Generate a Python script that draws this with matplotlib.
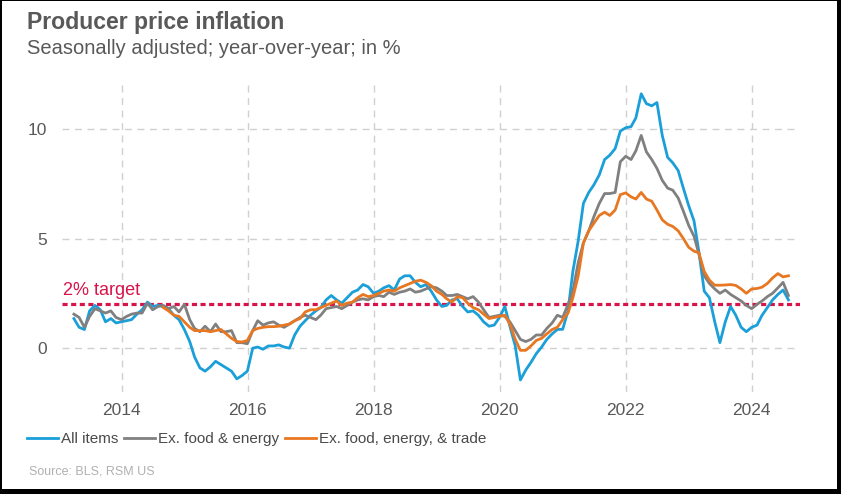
import numpy as np
import pandas as pd
import matplotlib.pyplot as plt
import matplotlib.dates as mdates
from matplotlib.patches import Rectangle

plt.rcParams['font.family'] = ['Liberation Sans', 'DejaVu Sans']

# Monthly year-over-year readings, Mar 2013 .. Jul 2024
dates = pd.date_range('2013-03-31', periods=137, freq='ME')

all_items = [
    1.35, 0.95, 0.85, 1.7, 1.95, 1.75, 1.2, 1.35, 1.15,
    1.2, 1.25, 1.3, 1.55, 1.75, 2.1, 1.9, 1.95, 1.9, 1.8, 1.5, 1.3,
    0.85, 0.3, -0.4, -0.9, -1.05, -0.85, -0.6, -0.75, -0.9, -1.05, -1.4, -1.25,
    -1.05, 0.0, 0.05, -0.05, 0.1, 0.1, 0.15, 0.05, 0.0, 0.6, 1.0, 1.25,
    1.5, 1.7, 1.85, 2.2, 2.4, 2.2, 2.05, 2.3, 2.55, 2.65, 2.9, 2.8,
    2.5, 2.6, 2.75, 2.85, 2.65, 3.15, 3.3, 3.3, 3.0, 2.8, 2.9, 2.6,
    2.2, 1.9, 1.95, 2.2, 2.25, 1.9, 1.65, 1.7, 1.5, 1.2, 1.0, 1.05,
    1.4, 1.9, 1.0, 0.1, -1.45, -1.0, -0.65, -0.25, 0.05, 0.4, 0.65, 0.85,
    0.86, 1.7, 3.5, 4.9, 6.6, 7.1, 7.45, 7.9, 8.6, 8.8, 9.1, 9.9,
    10.05, 10.1, 10.5, 11.6, 11.15, 11.05, 11.2, 9.7, 8.7, 8.45, 8.1, 7.3,
    6.5, 5.8, 4.4, 2.6, 2.3, 1.2, 0.25, 1.2, 1.9, 1.5, 0.95, 0.75,
    0.95, 1.05, 1.5, 1.85, 2.2, 2.45, 2.65, 2.2,
]

ex_food_energy = [
    1.55, 1.4, 0.95, 1.45, 1.8, 1.7, 1.6, 1.7, 1.4,
    1.3, 1.45, 1.55, 1.6, 1.6, 2.05, 1.75, 1.9, 1.95, 1.8, 1.9, 1.65,
    2.0, 1.3, 0.9, 0.75, 1.0, 0.75, 1.1, 0.75, 0.75, 0.8, 0.25, 0.25,
    0.2, 0.8, 1.25, 1.05, 1.15, 1.2, 1.05, 0.95, 1.1, 1.25, 1.4, 1.5,
    1.4, 1.3, 1.5, 1.8, 1.85, 1.9, 1.8, 1.95, 2.1, 2.2, 2.25, 2.2,
    2.35, 2.4, 2.35, 2.55, 2.45, 2.55, 2.6, 2.7, 2.55, 2.6, 2.7, 2.8,
    2.75, 2.6, 2.4, 2.4, 2.45, 2.35, 2.25, 2.35, 2.1, 1.75, 1.4, 1.45,
    1.5, 1.45, 1.2, 0.8, 0.4, 0.3, 0.4, 0.6, 0.6, 0.9, 1.15, 1.5,
    1.4, 2.0, 2.6, 3.9, 4.8, 5.35, 6.0, 6.6, 7.05, 7.05, 7.1, 8.5,
    8.75, 8.6, 9.0, 9.7, 8.95, 8.6, 8.2, 7.65, 7.3, 7.2, 6.85, 6.25,
    5.6, 5.1, 4.3, 3.3, 2.95, 2.7, 2.5, 2.65, 2.45, 2.3, 2.15, 1.95,
    1.8, 2.0, 2.15, 2.35, 2.5, 2.75, 3.0, 2.4,
]

# ex. food, energy & trade starts Aug 2014
ex_fet = [np.nan] * 17 + [
    1.85, 1.7, 1.5, 1.45,
    1.2, 0.95, 0.8, 0.8, 0.8, 0.75, 0.8, 0.85, 0.65, 0.45, 0.3, 0.28,
    0.35, 0.8, 0.9, 0.95, 0.98, 0.98, 1.0, 1.05, 1.1, 1.25, 1.35, 1.65,
    1.75, 1.75, 1.85, 1.95, 2.05, 2.15, 1.95, 2.05, 2.1, 2.3, 2.45, 2.35,
    2.4, 2.5, 2.6, 2.65, 2.6, 2.75, 2.85, 2.95, 3.05, 3.1, 3.0, 2.85,
    2.6, 2.45, 2.25, 2.1, 2.35, 2.3, 2.05, 1.85, 1.75, 1.55, 1.35, 1.4,
    1.45, 1.5, 1.1, 0.4, -0.1, -0.1, 0.1, 0.35, 0.45, 0.65, 0.85, 0.95,
    1.3, 1.6, 2.3, 3.3, 4.8, 5.35, 5.7, 6.05, 6.2, 6.05, 6.3, 7.0,
    7.08, 6.9, 6.8, 7.1, 6.8, 6.7, 6.3, 5.85, 5.65, 5.55, 5.35, 5.0,
    4.6, 4.42, 4.35, 3.5, 3.1, 2.87, 2.87, 2.88, 2.9, 2.86, 2.7, 2.5,
    2.7, 2.72, 2.78, 2.95, 3.2, 3.4, 3.25, 3.3,
]

target = 2
labels = ['All items', 'Ex. food & energy', 'Ex. food, energy, & trade']
colors = ['#1a9fd9', '#808080', '#e87722']

text_color = '#595959'

fig = plt.figure(figsize=(8.41, 4.94), dpi=100)
ax = fig.add_axes([62 / 841, 1 - 392 / 494, 738 / 841, 307 / 494])

for series, lab, col in zip([all_items, ex_food_energy, ex_fet], labels, colors):
    ax.plot(dates, series, color=col, lw=2.0, label=lab, solid_joinstyle='round')

ax.axhline(target, color='#d8134a', lw=2.3, linestyle=(0, (1.6, 1.1)), zorder=1)
ax.text(pd.Timestamp('2013-01-28'), 2.25, '2% target', color='#d8134a',
        fontsize=13, ha='left', va='bottom')

ax.set_ylim(-2, 12)
ax.set_yticks([0, 5, 10])
ax.set_xlim(pd.Timestamp('2013-01-21'), pd.Timestamp('2024-10-06'))
ax.xaxis.set_major_locator(mdates.YearLocator(2))
ax.xaxis.set_major_formatter(mdates.DateFormatter('%Y'))

ax.grid(True, color='#d0d0d0', lw=1.0, linestyle=(0, (5, 4)))
ax.set_axisbelow(True)
for s in ax.spines.values():
    s.set_visible(False)
ax.tick_params(length=0, labelsize=12.5, labelcolor=text_color)
ax.tick_params(axis='x', pad=8)
ax.tick_params(axis='y', pad=11)

fig.text(27 / 841, 1 - 22 / 494, 'Producer price inflation', fontsize=16.6,
         fontweight='bold', color=text_color, va='center', ha='left')
fig.text(27 / 841, 1 - 49 / 494, 'Seasonally adjusted; year-over-year; in %',
         fontsize=14.5, color=text_color, va='center', ha='left')

fig.legend(loc='center left', bbox_to_anchor=(27 / 841, 1 - 439 / 494), ncol=3,
           frameon=False, fontsize=11, handlelength=2.0, handletextpad=0.2,
           columnspacing=0.4, borderaxespad=0, borderpad=0,
           labelcolor='#4a4a4a')

fig.text(29 / 841, 1 - 471 / 494, 'Source: BLS, RSM US', fontsize=9,
         color='#b0b0b0', va='center', ha='left')

# black frame round the picture
W, H = 841, 494
for x0, y0, w, h in [(0, 0, 2, H), (0, H - 1, W, 1), (W - 4, 0, 4, H), (0, 0, W, 5)]:
    fig.add_artist(Rectangle((x0 / W, y0 / H), w / W, h / H, transform=fig.transFigure,
                             color='black', lw=0))

fig.savefig('out.png', dpi=100)
